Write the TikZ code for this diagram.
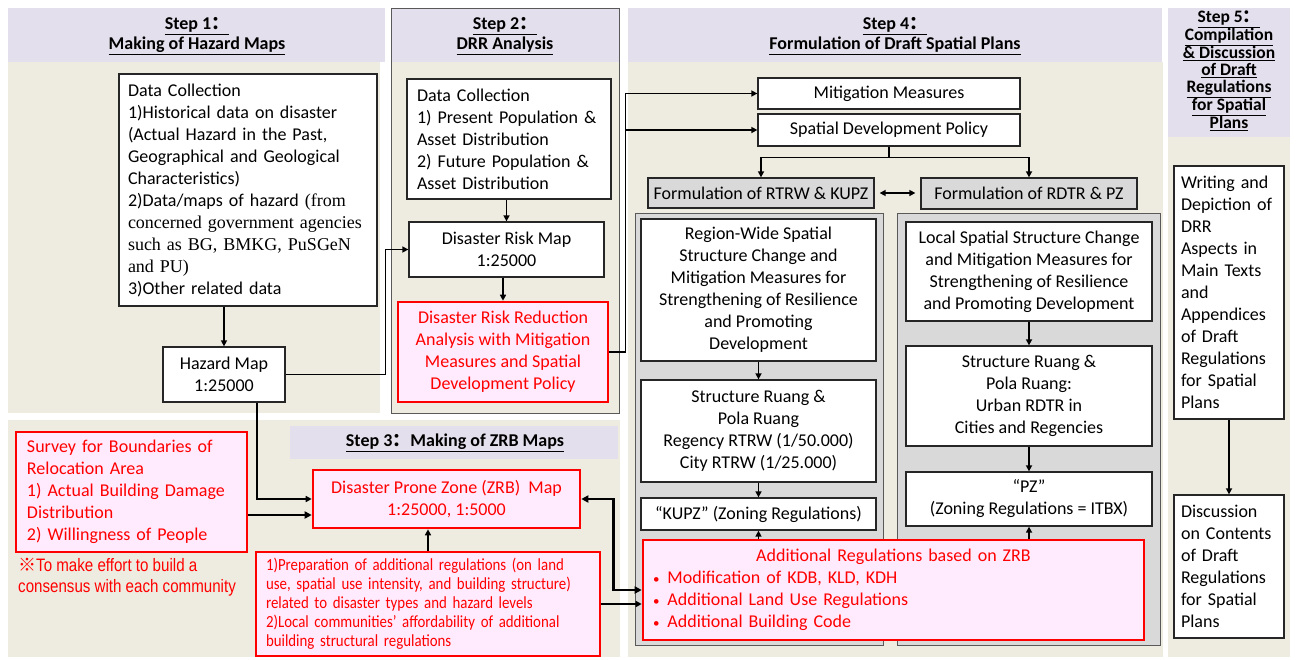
\documentclass[tikz,border=0pt]{standalone}
\usepackage{fontspec}
\setmainfont{Carlito}
\newfontfamily\serifpart{Liberation Serif}
\newfontfamily\notenarrow[FakeStretch=0.84]{Liberation Sans}
\newfontfamily\prepnarrow[FakeStretch=0.875]{Carlito}
\newfontfamily\cjkmark{Noto Sans CJK SC}
\usetikzlibrary{arrows.meta,positioning}
\newcommand{\txtbody}{\fontsize{18}{22}\selectfont}
\newcommand{\txthead}{\fontsize{18}{20}\selectfont\bfseries}
\newcommand{\fwcolon}{{\cjkmark ：}}
\newcommand{\serifline}[1]{{\serifpart\fontsize{18}{22}\selectfont #1}}
\newcommand{\smallbullet}{{\fontsize{13}{22}\selectfont\textbullet}\hspace{8pt}}

\begin{document}
\begin{tikzpicture}[
    x={(1pt,0pt)}, y={(0pt,-1pt)},
    every node/.style={font=\txtbody, inner sep=0pt},
    box/.style={draw=black!85, line width=1.3pt, fill=white, align=center},
    leftbox/.style={box, align=left, inner xsep=10pt},
    greybox/.style={box, fill=panelgray},
    zrbbox/.style={draw=zrbred, line width=2.6pt, fill=zrbpink, text=zrbred, align=center},
    headtext/.style={font=\txthead, align=center},
    arr/.style={line width=1.5pt, -{Triangle[length=6pt,width=6pt]}},
    thickarr/.style={line width=2.4pt, -{Triangle[length=7pt,width=7pt]}},
    dblarr/.style={line width=2.4pt, {Triangle[length=7pt,width=7pt]}-{Triangle[length=7pt,width=7pt]}},
  ]
    \definecolor{headlav}{HTML}{E4DFEC}
    \definecolor{bodybeige}{HTML}{EEECE1}
    \definecolor{panelgray}{HTML}{D9D9D9}
    \definecolor{edgegray}{HTML}{595959}
    \definecolor{zrbred}{HTML}{FF0000}
    \definecolor{zrbpink}{HTML}{FFEAFE}

    \useasboundingbox (0,0) rectangle (1298,659);

    % ---- background panels ----
    \fill[headlav] (8,8) rectangle (385,62);
    \fill[bodybeige] (8,62) rectangle (380,413);
    \fill[bodybeige] (391,8) rectangle (619,413);
    \fill[headlav] (391,8) rectangle (619,62);
    \draw[edgegray, line width=1pt] (391,8) rectangle (619,413);
    \fill[bodybeige] (8,420) rectangle (620,657);
    \fill[headlav] (290,426) rectangle (618,459);
    \fill[headlav] (628,8) rectangle (1162,62);
    \fill[bodybeige] (628,62) rectangle (1163,657);
    \fill[headlav] (1168,8) rectangle (1290,137);
    \fill[bodybeige] (1168,137) rectangle (1290,657);
    \draw[edgegray, line width=1pt, fill=panelgray] (635,213) rectangle (883,645);
    \draw[edgegray, line width=1pt, fill=panelgray] (897,213) rectangle (1160,645);

    % ---- headings ----
    \node[headtext] (headone) at (197,36)
      {\underline{Step 1\fwcolon}\\\underline{Making of Hazard Maps}};
    \node[headtext] (headtwo) at (505,36)
      {\underline{Step 2\fwcolon}\\\underline{DRR Analysis}};
    \node[headtext] (headthree) at (455,443)
      {\underline{Step 3\fwcolon Making of ZRB Maps}};
    \node[headtext] (headfour) at (895,36)
      {\underline{Step 4\fwcolon}\\\underline{Formulation of Draft Spatial Plans}};
    \node[headtext, font=\fontsize{17.5}{17}\selectfont\bfseries] (headfive) at (1229,71)
      {\underline{Step 5\fwcolon}\\\underline{Compilation}\\\underline{\& Discussion}\\
       \underline{of Draft}\\\underline{Regulations}\\\underline{for Spatial}\\\underline{Plans}};

    % ---- step 1: hazard maps ----
    \node[leftbox, text width=240pt, inner xsep=9pt, minimum height=232pt] (dcone) at (248,190)
      {Data Collection\\1)Historical data on disaster\\(Actual Hazard in the Past,\\
       Geographical and Geological\\Characteristics)\\2)Data/maps of hazard \serifline{(from}\\
       \serifline{concerned government agencies}\\\serifline{such as BG, BMKG, PuSGeN}\\
       \serifline{and PU)}\\3)Other related data};
    \node[box, minimum width=122pt, minimum height=55pt] (hazard) at (224,374.5)
      {Hazard Map\\1:25000};

    % ---- step 2: DRR analysis ----
    \node[leftbox, text width=184pt, minimum height=120pt] (dctwo) at (509,139)
      {Data Collection\\1) Present Population \&\\Asset Distribution\\
       2) Future Population \&\\Asset Distribution};
    \node[box, minimum width=195pt, minimum height=55pt] (drm) at (506.5,249.5)
      {Disaster Risk Map\\1:25000};
    \node[zrbbox, minimum width=210pt, minimum height=100pt] (drr) at (503,352)
      {Disaster Risk Reduction\\Analysis with Mitigation\\Measures and Spatial\\Development Policy};

    % ---- step 3: ZRB maps ----
    \node[zrbbox, align=left, text width=209pt, inner xsep=11pt, minimum height=120pt] (survey) at (131.5,492)
      {Survey for Boundaries of\\Relocation Area\\1) Actual Building Damage\\Distribution\\2) Willingness of People};
    \node[text=zrbred, align=left, anchor=north west, font=\notenarrow\fontsize{18}{21}\selectfont] (note) at (18,558)
      {{\cjkmark ※}To make effort to build a\\consensus with each community};
    \node[zrbbox, minimum width=267pt, minimum height=58pt] (zrb) at (446.5,499)
      {Disaster Prone Zone (ZRB)\ \ Map\\1:25000, 1:5000};
    \node[zrbbox, align=left, text width=324pt, inner xsep=10pt, minimum height=104pt,
          font=\prepnarrow\fontsize{17}{19}\selectfont] (prep) at (428,604)
      {1)Preparation of additional regulations (on land\\use, spatial use intensity, and building structure)\\
       related to disaster types and hazard levels\\2)Local communities’ affordability of additional\\
       building structural regulations};

    % ---- step 4: draft spatial plans ----
    \node[box, minimum width=262pt, minimum height=31pt] (mm) at (889,93.5) {Mitigation Measures};
    \node[box, minimum width=262pt, minimum height=32pt] (sdp) at (889,130) {Spatial Development Policy};
    \node[greybox, minimum width=226pt, minimum height=30pt] (rtrw) at (761,193) {Formulation of RTRW \& KUPZ};
    \node[greybox, minimum width=216pt, minimum height=31pt] (rdtr) at (1029,193.5) {Formulation of RDTR \& PZ};
    \node[box, minimum width=235pt, minimum height=142pt] (region) at (758.5,290)
      {Region-Wide Spatial\\Structure Change and\\Mitigation Measures for\\Strengthening of Resilience\\
       and Promoting\\Development};
    \node[box, minimum width=235pt, minimum height=102pt] (ruangone) at (758.5,431)
      {Structure Ruang \&\\Pola Ruang\\Regency RTRW (1/50.000)\\City RTRW (1/25.000)};
    \node[box, minimum width=235pt, minimum height=32pt] (kupz) at (758.5,514)
      {“KUPZ” (Zoning Regulations)};
    \node[box, minimum width=246pt, minimum height=99pt] (local) at (1029,271.5)
      {Local Spatial Structure Change\\and Mitigation Measures for\\Strengthening of Resilience\\
       and Promoting Development};
    \node[box, minimum width=246pt, minimum height=100pt] (ruangtwo) at (1029,396)
      {Structure Ruang \&\\Pola Ruang:\\Urban RDTR in\\Cities and Regencies};
    \node[box, minimum width=246pt, minimum height=54pt] (pz) at (1029,499)
      {“PZ”\\(Zoning Regulations = ITBX)};
    \node[zrbbox, align=left, text width=481pt, inner xsep=10pt, minimum height=100pt] (addreg) at (893.5,590)
      {\makebox[\linewidth]{Additional Regulations based on ZRB}\\
       \smallbullet Modification of KDB, KLD, KDH\\
       \smallbullet Additional Land Use Regulations\\
       \smallbullet Additional Building Code};

    % ---- step 5: compilation ----
    \node[leftbox, text width=96pt, inner xsep=7pt, minimum height=253pt] (writing) at (1229,292.5)
      {Writing and\\Depiction of\\DRR\\Aspects in\\Main Texts\\and\\Appendices\\of Draft\\
       Regulations\\for Spatial\\Plans};
    \node[leftbox, text width=96pt, inner xsep=7pt, minimum height=143pt] (discuss) at (1229,566.5)
      {Discussion\\on Contents\\of Draft\\Regulations\\for Spatial\\Plans};

    % ---- connectors ----
    \draw[arr] (hazard.north |- dcone.south) -- (hazard.north);
    \draw[arr] (hazard.east) -- ++(100,0) |- (drm.west);
    \draw[arr] ([xshift=33pt]hazard.south) |- (zrb.west);
    \draw[arr] (drm.north |- dctwo.south) -- (drm.north);
    \draw[arr] (drr.north |- drm.south) -- (drr.north);
    \draw[arr] (drr.east) -- ++(16,0) |- (mm.west);
    \draw[arr] (drr.east) -- ++(16,0) |- (sdp.west);
    \draw[arr] (sdp.south) -- ++(0,11) -| (rtrw.north);
    \draw[arr] (sdp.south) -- ++(0,11) -| (rdtr.north);
    \draw[arr, {Triangle[length=6pt,width=6pt]}-{Triangle[length=6pt,width=6pt]}, shorten <=5pt, shorten >=5pt]
      (rtrw.east) -- (rtrw.east -| rdtr.west);
    \draw[arr] (region.south) -- (ruangone.north);
    \draw[arr] (ruangone.south) -- (kupz.north);
    \draw[arr] (addreg.north -| kupz.south) -- (kupz.south);
    \draw[arr] (local.south) -- (ruangtwo.north);
    \draw[arr] (ruangtwo.south) -- (pz.north);
    \draw[arr] (addreg.north -| pz.south) -- (pz.south);
    \coordinate (zrbin) at ([yshift=-16pt]zrb.west);
    \draw[thickarr] (survey.east |- zrbin) -- (zrbin);
    \draw[arr] (prep.north) -- (prep.north |- zrb.south);
    \draw[dblarr] (zrb.east) -- ++(32,0) |- (addreg.west);
    \draw[arr] (prep.east) -- (prep.east -| addreg.west);
    \draw[arr] (writing.south) -- (discuss.north);
  \end{tikzpicture}
\end{document}
